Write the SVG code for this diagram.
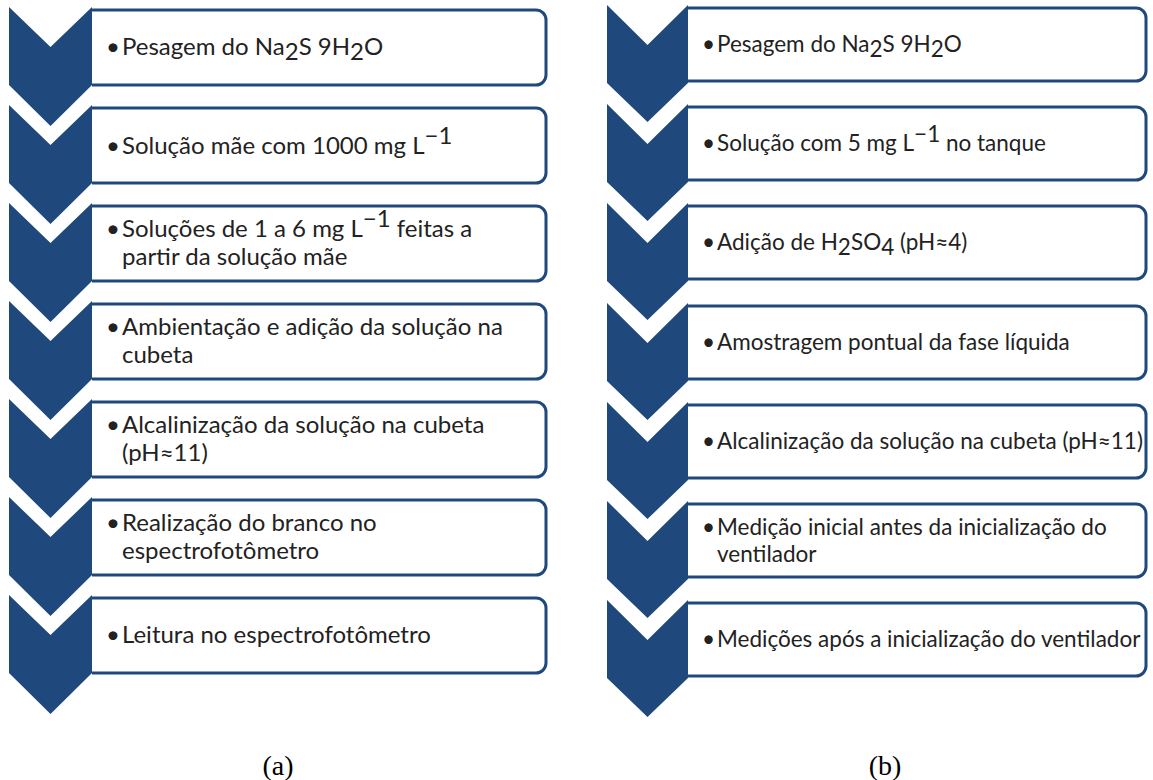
<svg xmlns="http://www.w3.org/2000/svg" width="1153" height="780" viewBox="0 0 1153 780">
<defs>
<style>
.box{fill:#fff;stroke:#1F497D;stroke-width:3}
.chev{fill:#1F497D}
.t{font-family:Lato,"Liberation Sans",sans-serif;font-size:24px;fill:#222}
.r{font-size:22.5px}
.lab{font-family:"Liberation Serif",serif;font-size:28px;fill:#000;text-anchor:middle}
</style>
<path id="chL" d="M0,0 L41.5,40 L83,0 L83,78 L41.5,119 L0,78 Z"/>
<path id="chR" d="M0,0 L40.5,40 L81,0 L81,78 L40.5,117 L0,78 Z"/>
</defs>
<rect width="1153" height="780" fill="#fff"/>
<g id="connectors"></g>
<!-- Panel (a) -->
<g id="a1"><path class="box" d="M92,10 H536 A10,10 0 0 1 546,20 V75 A10,10 0 0 1 536,85 H92"/><use href="#chL" class="chev" x="9" y="7"/>
<text class="t" x="106" y="55">•</text><text class="t" x="122" y="55">Pesagem do Na<tspan dy="5">2</tspan><tspan dy="-5">S 9H</tspan><tspan dy="5">2</tspan><tspan dy="-5">O</tspan></text></g>
<g id="a2"><path class="box" d="M92,108 H536 A10,10 0 0 1 546,118 V173 A10,10 0 0 1 536,183 H92"/><use href="#chL" class="chev" x="9" y="105"/>
<text class="t" x="106" y="154">•</text><text class="t" x="122" y="154">Solução mãe com 1000 mg L<tspan dy="-10">−1</tspan></text></g>
<g id="a3"><path class="box" d="M92,206 H536 A10,10 0 0 1 546,216 V271 A10,10 0 0 1 536,281 H92"/><use href="#chL" class="chev" x="9" y="203"/>
<text class="t" x="106" y="237">•</text><text class="t" x="122" y="237">Soluções de 1 a 6 mg L<tspan dy="-10">−1</tspan><tspan dy="10"> feitas a</tspan></text><text class="t" x="122" y="265">partir da solução mãe</text></g>
<g id="a4"><path class="box" d="M92,304 H536 A10,10 0 0 1 546,314 V369 A10,10 0 0 1 536,379 H92"/><use href="#chL" class="chev" x="9" y="301"/>
<text class="t" x="106" y="335">•</text><text class="t" x="122" y="335">Ambientação e adição da solução na</text><text class="t" x="122" y="363">cubeta</text></g>
<g id="a5"><path class="box" d="M92,402 H536 A10,10 0 0 1 546,412 V467 A10,10 0 0 1 536,477 H92"/><use href="#chL" class="chev" x="9" y="399"/>
<text class="t" x="106" y="433">•</text><text class="t" x="122" y="433">Alcalinização da solução na cubeta</text><text class="t" x="122" y="461">(pH≈11)</text></g>
<g id="a6"><path class="box" d="M92,500 H536 A10,10 0 0 1 546,510 V565 A10,10 0 0 1 536,575 H92"/><use href="#chL" class="chev" x="9" y="497"/>
<text class="t" x="106" y="531">•</text><text class="t" x="122" y="531">Realização do branco no</text><text class="t" x="122" y="559">espectrofotômetro</text></g>
<g id="a7"><path class="box" d="M92,598 H536 A10,10 0 0 1 546,608 V663 A10,10 0 0 1 536,673 H92"/><use href="#chL" class="chev" x="9" y="595"/>
<text class="t" x="106" y="643">•</text><text class="t" x="122" y="643">Leitura no espectrofotômetro</text></g>
<!-- Panel (b) -->
<g id="b1"><path class="box" d="M688,8 H1136 A10,10 0 0 1 1146,18 V71 A10,10 0 0 1 1136,81 H688"/><use href="#chR" class="chev" x="607" y="5"/>
<text class="t r" x="702" y="52">•</text><text class="t r" x="717" y="52">Pesagem do Na<tspan dy="5">2</tspan><tspan dy="-5">S 9H</tspan><tspan dy="5">2</tspan><tspan dy="-5">O</tspan></text></g>
<g id="b2"><path class="box" d="M688,107 H1136 A10,10 0 0 1 1146,117 V170 A10,10 0 0 1 1136,180 H688"/><use href="#chR" class="chev" x="607" y="104"/>
<text class="t r" x="702" y="151">•</text><text class="t r" x="717" y="151">Solução com 5 mg L<tspan dy="-9">−1</tspan><tspan dy="9"> no tanque</tspan></text></g>
<g id="b3"><path class="box" d="M688,206 H1136 A10,10 0 0 1 1146,216 V269 A10,10 0 0 1 1136,279 H688"/><use href="#chR" class="chev" x="607" y="203"/>
<text class="t r" x="702" y="250">•</text><text class="t r" x="717" y="250">Adição de H<tspan dy="5">2</tspan><tspan dy="-5">SO</tspan><tspan dy="5">4</tspan><tspan dy="-5"> (pH≈4)</tspan></text></g>
<g id="b4"><path class="box" d="M688,306 H1136 A10,10 0 0 1 1146,316 V369 A10,10 0 0 1 1136,379 H688"/><use href="#chR" class="chev" x="607" y="303"/>
<text class="t r" x="702" y="350">•</text><text class="t r" x="717" y="350">Amostragem pontual da fase líquida</text></g>
<g id="b5"><path class="box" d="M688,405 H1136 A10,10 0 0 1 1146,415 V468 A10,10 0 0 1 1136,478 H688"/><use href="#chR" class="chev" x="607" y="402"/>
<text class="t r" x="702" y="449">•</text><text class="t r" x="717" y="449">Alcalinização da solução na cubeta (pH≈11)</text></g>
<g id="b6"><path class="box" d="M688,504 H1136 A10,10 0 0 1 1146,514 V567 A10,10 0 0 1 1136,577 H688"/><use href="#chR" class="chev" x="607" y="501"/>
<text class="t r" x="702" y="535">•</text><text class="t r" x="717" y="535">Medição inicial antes da inicialização do</text><text class="t r" x="717" y="562">ventilador</text></g>
<g id="b7"><path class="box" d="M688,603 H1136 A10,10 0 0 1 1146,613 V666 A10,10 0 0 1 1136,676 H688"/><use href="#chR" class="chev" x="607" y="600"/>
<text class="t r" x="702" y="647">•</text><text class="t r" x="717" y="647">Medições após a inicialização do ventilador</text></g>
<text class="lab" x="278" y="775">(a)</text>
<text class="lab" x="885" y="775">(b)</text>
</svg>
